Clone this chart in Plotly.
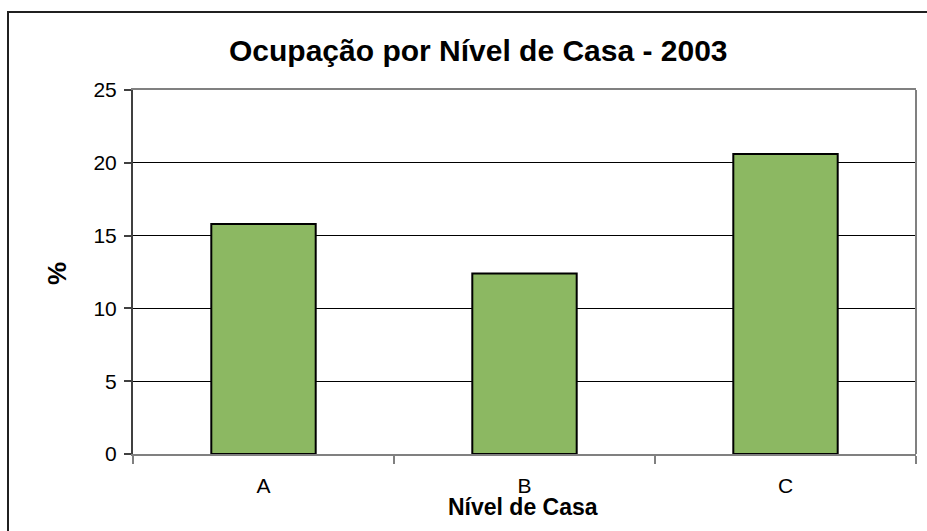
import plotly.graph_objects as go

# Ocupação por nível de casa, 2003 (%)
niveis = ["A", "B", "C"]
ocupacao = [15.8, 12.4, 20.6]
y_ticks = [0, 5, 10, 15, 20, 25]

W, H = 927, 531
L, R, T, B = 133, 11, 90, 77
pw, ph = W - L - R, H - T - B


def px_x(x):
    return (x - L) / pw


def px_y(y):
    return (H - B - y) / ph


fig = go.Figure()
fig.add_trace(go.Bar(
    x=niveis,
    y=ocupacao,
    width=0.4,
    marker=dict(color="#8cb862", line=dict(color="black", width=2)),
    showlegend=False,
))

fig.update_layout(
    width=W, height=H,
    margin=dict(l=L, r=R, t=T, b=B, autoexpand=False),
    paper_bgcolor="white",
    plot_bgcolor="white",
    font=dict(family="Liberation Sans, Arial, sans-serif", size=21, color="black"),
    showlegend=False,
)

fig.update_xaxes(
    type="category",
    showgrid=False,
    showline=True, linecolor="#808080", linewidth=2, mirror=True,
    ticks="outside", tickson="boundaries", ticklen=8, tickcolor="#808080", tickwidth=2,
    tickfont=dict(size=21), ticklabelstandoff=12,
)
fig.update_yaxes(
    range=[0, 25],
    tickvals=y_ticks,
    showgrid=True, gridcolor="black", gridwidth=1,
    zeroline=False,
    showline=True, linecolor="#404040", linewidth=2,
    ticks="outside", ticklen=7, tickcolor="#404040", tickwidth=2,
    tickfont=dict(size=21), ticklabelstandoff=3,
)

# plot area right edge (gray)
fig.add_shape(type="line", xref="paper", yref="paper", x0=1, x1=1, y0=0, y1=1,
              line=dict(color="#808080", width=2))
# outer chart frame
fig.add_shape(type="rect", xref="paper", yref="paper",
              x0=px_x(8), x1=px_x(940), y0=px_y(545), y1=px_y(12),
              line=dict(color="#202020", width=2), layer="above")

lbl = dict(xref="paper", yref="paper", showarrow=False, xanchor="center", yanchor="middle")
fig.add_annotation(text="<b>Ocupação por Nível de Casa - 2003</b>",
                   x=px_x(478), y=px_y(51), font=dict(size=30), **lbl)
fig.add_annotation(text="<b>%</b>", textangle=-90,
                   x=px_x(57), y=px_y(274), font=dict(size=26), **lbl)
fig.add_annotation(text="<b>Nível de Casa</b>",
                   x=px_x(523), y=px_y(507), font=dict(size=23), **lbl)

fig.write_html("out.html", config={"displayModeBar": False},
               post_script="document.body.style.margin='0';")
